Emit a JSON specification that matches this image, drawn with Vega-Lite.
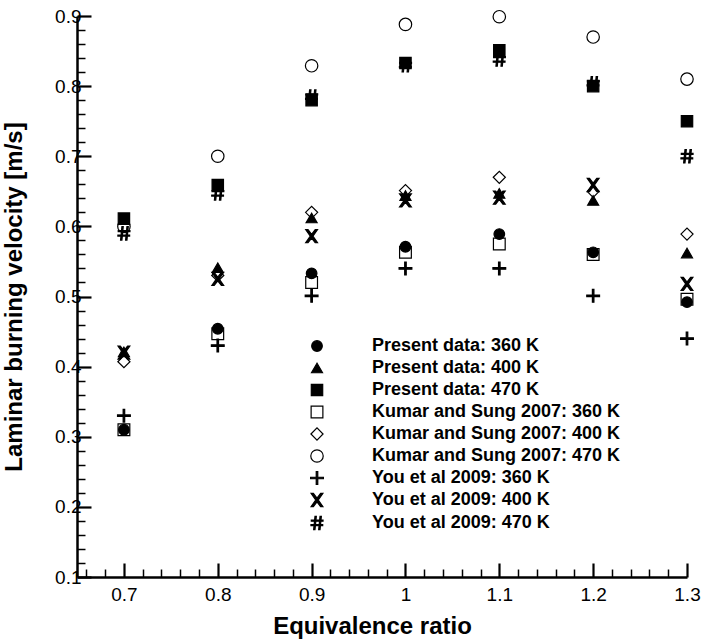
{
  "$schema": "https://vega.github.io/schema/vega-lite/v6.json",
  "width": 610,
  "height": 561,
  "autosize": "none",
  "padding": {"left": 77, "top": 16, "right": 18, "bottom": 65},
  "background": "white",
  "config": {
    "view": {"stroke": null},
    "font": "Liberation Sans"
  },
  "data": {
    "values": [
      {"phi": 0.7, "v": 0.31, "s": "Kumar and Sung 2007: 360 K"},
      {"phi": 0.8, "v": 0.447, "s": "Kumar and Sung 2007: 360 K"},
      {"phi": 0.9, "v": 0.52, "s": "Kumar and Sung 2007: 360 K"},
      {"phi": 1.0, "v": 0.563, "s": "Kumar and Sung 2007: 360 K"},
      {"phi": 1.1, "v": 0.575, "s": "Kumar and Sung 2007: 360 K"},
      {"phi": 1.2, "v": 0.56, "s": "Kumar and Sung 2007: 360 K"},
      {"phi": 1.3, "v": 0.496, "s": "Kumar and Sung 2007: 360 K"},
      {"phi": 0.7, "v": 0.407, "s": "Kumar and Sung 2007: 400 K"},
      {"phi": 0.8, "v": 0.53, "s": "Kumar and Sung 2007: 400 K"},
      {"phi": 0.9, "v": 0.62, "s": "Kumar and Sung 2007: 400 K"},
      {"phi": 1.0, "v": 0.651, "s": "Kumar and Sung 2007: 400 K"},
      {"phi": 1.1, "v": 0.67, "s": "Kumar and Sung 2007: 400 K"},
      {"phi": 1.2, "v": 0.65, "s": "Kumar and Sung 2007: 400 K"},
      {"phi": 1.3, "v": 0.589, "s": "Kumar and Sung 2007: 400 K"},
      {"phi": 0.7, "v": 0.6, "s": "Kumar and Sung 2007: 470 K"},
      {"phi": 0.8, "v": 0.7, "s": "Kumar and Sung 2007: 470 K"},
      {"phi": 0.9, "v": 0.829, "s": "Kumar and Sung 2007: 470 K"},
      {"phi": 1.0, "v": 0.888, "s": "Kumar and Sung 2007: 470 K"},
      {"phi": 1.1, "v": 0.899, "s": "Kumar and Sung 2007: 470 K"},
      {"phi": 1.2, "v": 0.87, "s": "Kumar and Sung 2007: 470 K"},
      {"phi": 1.3, "v": 0.81, "s": "Kumar and Sung 2007: 470 K"},
      {"phi": 0.7, "v": 0.33, "s": "You et al 2009: 360 K"},
      {"phi": 0.8, "v": 0.43, "s": "You et al 2009: 360 K"},
      {"phi": 0.9, "v": 0.501, "s": "You et al 2009: 360 K"},
      {"phi": 1.0, "v": 0.54, "s": "You et al 2009: 360 K"},
      {"phi": 1.1, "v": 0.54, "s": "You et al 2009: 360 K"},
      {"phi": 1.2, "v": 0.501, "s": "You et al 2009: 360 K"},
      {"phi": 1.3, "v": 0.44, "s": "You et al 2009: 360 K"},
      {"phi": 0.7, "v": 0.42, "s": "You et al 2009: 400 K"},
      {"phi": 0.8, "v": 0.525, "s": "You et al 2009: 400 K"},
      {"phi": 0.9, "v": 0.586, "s": "You et al 2009: 400 K"},
      {"phi": 1.0, "v": 0.637, "s": "You et al 2009: 400 K"},
      {"phi": 1.1, "v": 0.641, "s": "You et al 2009: 400 K"},
      {"phi": 1.2, "v": 0.659, "s": "You et al 2009: 400 K"},
      {"phi": 1.3, "v": 0.518, "s": "You et al 2009: 400 K"},
      {"phi": 0.7, "v": 0.59, "s": "You et al 2009: 470 K"},
      {"phi": 0.8, "v": 0.647, "s": "You et al 2009: 470 K"},
      {"phi": 0.9, "v": 0.785, "s": "You et al 2009: 470 K"},
      {"phi": 1.0, "v": 0.83, "s": "You et al 2009: 470 K"},
      {"phi": 1.1, "v": 0.838, "s": "You et al 2009: 470 K"},
      {"phi": 1.2, "v": 0.804, "s": "You et al 2009: 470 K"},
      {"phi": 1.3, "v": 0.7, "s": "You et al 2009: 470 K"},
      {"phi": 0.7, "v": 0.31, "s": "Present data: 360 K"},
      {"phi": 0.8, "v": 0.454, "s": "Present data: 360 K"},
      {"phi": 0.9, "v": 0.533, "s": "Present data: 360 K"},
      {"phi": 1.0, "v": 0.571, "s": "Present data: 360 K"},
      {"phi": 1.1, "v": 0.589, "s": "Present data: 360 K"},
      {"phi": 1.2, "v": 0.563, "s": "Present data: 360 K"},
      {"phi": 1.3, "v": 0.492, "s": "Present data: 360 K"},
      {"phi": 0.7, "v": 0.421, "s": "Present data: 400 K"},
      {"phi": 0.8, "v": 0.541, "s": "Present data: 400 K"},
      {"phi": 0.9, "v": 0.612, "s": "Present data: 400 K"},
      {"phi": 1.0, "v": 0.644, "s": "Present data: 400 K"},
      {"phi": 1.1, "v": 0.647, "s": "Present data: 400 K"},
      {"phi": 1.2, "v": 0.637, "s": "Present data: 400 K"},
      {"phi": 1.3, "v": 0.562, "s": "Present data: 400 K"},
      {"phi": 0.7, "v": 0.611, "s": "Present data: 470 K"},
      {"phi": 0.8, "v": 0.659, "s": "Present data: 470 K"},
      {"phi": 0.9, "v": 0.78, "s": "Present data: 470 K"},
      {"phi": 1.0, "v": 0.833, "s": "Present data: 470 K"},
      {"phi": 1.1, "v": 0.851, "s": "Present data: 470 K"},
      {"phi": 1.2, "v": 0.8, "s": "Present data: 470 K"},
      {"phi": 1.3, "v": 0.75, "s": "Present data: 470 K"}
    ]
  },
  "mark": {"type": "point", "stroke": "black", "strokeWidth": 1.2, "opacity": 1, "strokeOpacity": 1, "fillOpacity": 1},
  "encoding": {
    "x": {
      "field": "phi",
      "type": "quantitative",
      "scale": {"domain": [0.65, 1.3], "nice": false, "zero": false},
      "axis": {
        "title": "Equivalence ratio",
        "titleFont": "Liberation Sans",
        "titleFontSize": 24,
        "titleFontWeight": "bold",
        "titleColor": "black",
        "titlePadding": 4,
        "titleX": 295,
        "grid": false,
        "values": [0.66,0.68,0.7,0.72,0.74,0.76,0.78,0.8,0.82,0.84,0.86,0.88,0.9,0.92,0.94,0.96,0.98,1,1.02,1.04,1.06,1.08,1.1,1.12,1.14,1.16,1.18,1.2,1.22,1.24,1.26,1.28,1.3],
        "labelExpr": "abs(datum.value*10 - round(datum.value*10)) < 0.001 ? format(datum.value, '~g') : ''",
        "labelFont": "Liberation Sans",
        "labelFontSize": 19,
        "labelColor": "black",
        "labelOverlap": false,
        "labelBound": false,
        "labelFlush": false,
        "labelPadding": 22,
        "domainColor": "black",
        "domainWidth": 2.5,
        "tickColor": "black",
        "tickSize": {"condition": {"test": "abs(datum.value*10 - round(datum.value*10)) < 0.001", "value": -14}, "value": -8},
        "tickWidth": {"condition": {"test": "abs(datum.value*10 - round(datum.value*10)) < 0.001", "value": 2.2}, "value": 1.5}
      }
    },
    "y": {
      "field": "v",
      "type": "quantitative",
      "scale": {"domain": [0.1, 0.9], "nice": false, "zero": false},
      "axis": {
        "title": "Laminar burning velocity [m/s]",
        "titleFont": "Liberation Sans",
        "titleFontSize": 24,
        "titleFontWeight": "bold",
        "titleColor": "black",
        "titlePadding": 28,
        "grid": false,
        "values": [0.1,0.12,0.14,0.16,0.18,0.2,0.22,0.24,0.26,0.28,0.3,0.32,0.34,0.36,0.38,0.4,0.42,0.44,0.46,0.48,0.5,0.52,0.54,0.56,0.58,0.6,0.62,0.64,0.66,0.68,0.7,0.72,0.74,0.76,0.78,0.8,0.82,0.84,0.86,0.88,0.9],
        "labelExpr": "abs(datum.value*10 - round(datum.value*10)) < 0.001 ? format(datum.value, '~g') : ''",
        "labelFont": "Liberation Sans",
        "labelFontSize": 19,
        "labelColor": "black",
        "labelOverlap": false,
        "labelBound": false,
        "labelFlush": false,
        "labelPadding": 10,
        "domainColor": "black",
        "domainWidth": 2.5,
        "tickColor": "black",
        "tickSize": {"condition": {"test": "abs(datum.value*10 - round(datum.value*10)) < 0.001", "value": -14}, "value": -8},
        "tickWidth": {"condition": {"test": "abs(datum.value*10 - round(datum.value*10)) < 0.001", "value": 2.2}, "value": 1.5}
      }
    },
    "shape": {
      "field": "s",
      "type": "nominal",
      "scale": {
        "domain": ["Present data: 360 K","Present data: 400 K","Present data: 470 K","Kumar and Sung 2007: 360 K","Kumar and Sung 2007: 400 K","Kumar and Sung 2007: 470 K","You et al 2009: 360 K","You et al 2009: 400 K","You et al 2009: 470 K"],
        "range": ["circle","triangle-up","square","square","diamond","circle",
          "M-0.12,-1H0.12V-0.12H1V0.12H0.12V1H-0.12V0.12H-1V-0.12H-0.12Z",
          "M-0.9,-1H-0.55L0,-0.28L0.55,-1H0.9L0.2,0L0.9,1H0.55L0,0.28L-0.55,1H-0.9L-0.2,0Z",
          "M-0.3,-1H-0.1L-0.3,1H-0.5ZM0.45,-1H0.65L0.45,1H0.25ZM-0.85,-0.42H0.9V-0.26H-0.85ZM-0.9,0.24H0.85V0.4H-0.9Z"]
      },
      "legend": {
        "orient": "none",
        "legendX": 231,
        "legendY": 321,
        "title": null,
        "padding": 0,
        "labelFont": "Liberation Sans",
        "labelFontSize": 18,
        "labelFontWeight": "bold",
        "labelColor": "black",
        "labelOffset": 46,
        "labelLimit": 400,
        "rowPadding": 4,
        "symbolStrokeColor": "black",
        "symbolStrokeWidth": 1.2,
        "symbolOpacity": 1
      }
    },
    "fill": {
      "field": "s",
      "type": "nominal",
      "scale": {
        "domain": ["Present data: 360 K","Present data: 400 K","Present data: 470 K","Kumar and Sung 2007: 360 K","Kumar and Sung 2007: 400 K","Kumar and Sung 2007: 470 K","You et al 2009: 360 K","You et al 2009: 400 K","You et al 2009: 470 K"],
        "range": ["black","black","black","transparent","transparent","transparent","black","black","black"]
      }
    },
    "size": {
      "field": "s",
      "type": "nominal",
      "scale": {
        "domain": ["Present data: 360 K","Present data: 400 K","Present data: 470 K","Kumar and Sung 2007: 360 K","Kumar and Sung 2007: 400 K","Kumar and Sung 2007: 470 K","You et al 2009: 360 K","You et al 2009: 400 K","You et al 2009: 470 K"],
        "range": [113, 180, 144, 160, 260, 254, 110, 120, 140]
      }
    }
  }
}
